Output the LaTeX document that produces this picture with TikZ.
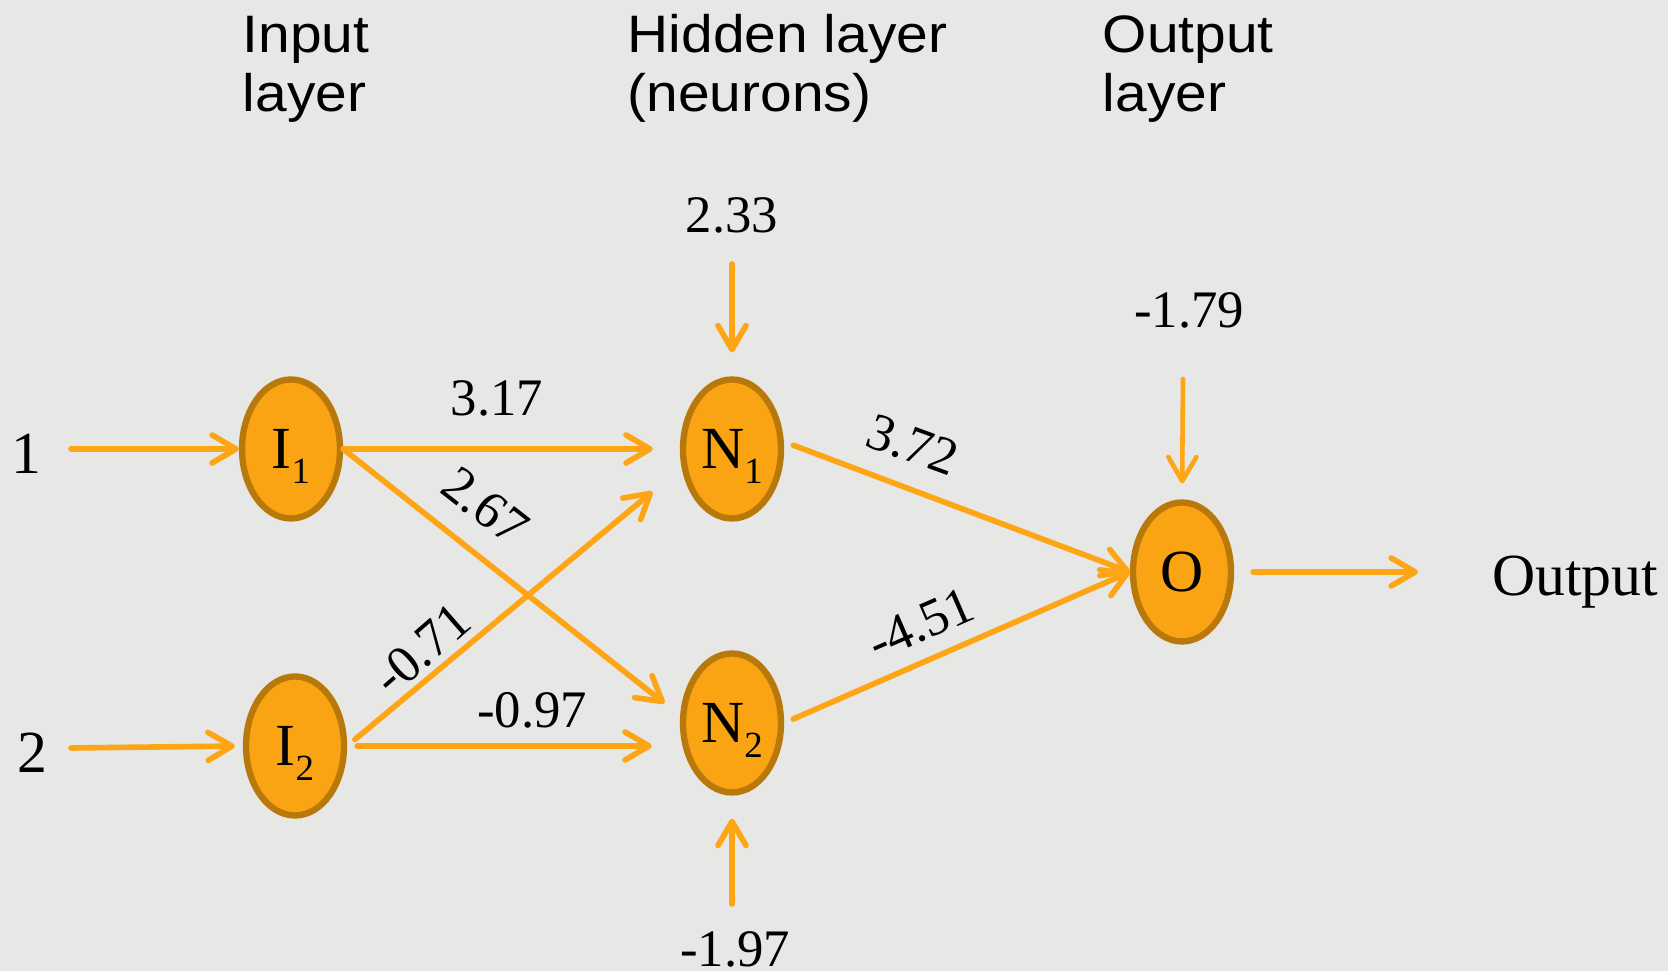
\documentclass[tikz,border=0pt]{standalone}
\usepackage{fontspec}
\setmainfont{Liberation Serif}
\setsansfont{Liberation Sans}
\newfontfamily\hdrfont[FakeStretch=1.08]{Liberation Sans}
\usetikzlibrary{positioning,arrows.meta,calc,shapes.geometric}

\definecolor{bgGray}{HTML}{E7E7E5}
\definecolor{cellOrange}{HTML}{FAA313}
\definecolor{rimBrown}{HTML}{B8780A}
\definecolor{wireOrange}{HTML}{FDA514}

\newcommand{\nsub}[1]{\raisebox{-4.2pt}{\fontsize{10.5}{10.5}\selectfont #1}}

\begin{document}
\begin{tikzpicture}[
  hdr/.style={font=\hdrfont\fontsize{15}{16.8}\selectfont, align=left, anchor=base west, inner sep=0pt},
  unit/.style={ellipse, draw=rimBrown, fill=cellOrange, line width=1.8pt,
    minimum width=0.98cm, minimum height=1.39cm, inner sep=0pt, text depth=0pt,
    font=\fontsize{17}{17}\selectfont},
  wire/.style={-{Straight Barb[length=2.4mm, width=2.8mm, round]}, line width=1.6pt,
    draw=wireOrange, line cap=round},
  wt/.style={font=\fontsize{15}{15}\selectfont, inner sep=0pt},
  big/.style={font=\fontsize{17}{17}\selectfont, inner sep=0pt}
]
\fill[bgGray] (0,0) rectangle (16.68,9.71);
\useasboundingbox (0,0) rectangle (16.68,9.71);
% layer headers
\node[hdr] (hdr-input) at (2.42,8.59) {Input\\layer};
\node[hdr] (hdr-hidden) at (6.27,8.59) {Hidden layer\\(neurons)};
\node[hdr] (hdr-output) at (11.02,8.59) {Output\\layer};
% neurons
\node[unit] (unit-i1) at (2.91,5.22) {I\nsub{1}};
\node[unit] (unit-i2) at (2.95,2.25) {I\nsub{2}};
\node[unit] (unit-n1) at (7.32,5.22) {N\nsub{1}};
\node[unit] (unit-n2) at (7.32,2.48) {N\nsub{2}};
\node[unit] (unit-o) at (11.82,3.99) {O};
% inputs, biases, output
\node[big] (lbl-in1) at (0.26,5.17) {1};
\node[big] (lbl-in2) at (0.32,2.18) {2};
\coordinate (start-in1) at (0.71,5.22);
\coordinate (start-in2) at (0.71,2.23);
\node[wt] (bias-n1) at (7.32,7.56) {2.33};
\node[wt] (bias-n2) at (7.35,0.22) {-1.97};
\node[wt] (bias-o) at (11.89,6.61) {-1.79};
\coordinate (start-bn1) at (7.32,7.07);
\coordinate (start-bn2) at (7.32,0.67);
\coordinate (start-bo) at (11.83,5.92);
\coordinate (end-out) at (14.18,3.99);
\node[big, anchor=base] (lbl-out) at (15.75,3.75) {Output};
% weights
\node[wt] (w-i1n1) at (4.97,5.73) {3.17};
\node[wt, rotate=-38] (w-i1n2) at (4.85,4.65) {2.67};
\node[wt, rotate=41] (w-i2n1) at (4.22,3.22) {-0.71};
\node[wt] (w-i2n2) at (5.32,2.61) {-0.97};
\node[wt, rotate=-20] (w-n1o) at (9.13,5.26) {3.72};
\node[wt, rotate=23.5] (w-n2o) at (9.21,3.47) {-4.51};
% connectors
\draw[wire] (start-in1) -- (unit-i1.west);
\draw[wire, shorten >=0.08cm] (start-in2) -- (unit-i2.west);
\draw[wire, shorten >=0.27cm] (unit-i1.east) -- (unit-n1.west);
\draw[wire, shorten >=0.2cm] (unit-i1.east) -- (unit-n2.172);
\draw[wire, shorten <=0.1cm, shorten >=0.38cm] (unit-i2.east) -- (unit-n1.200);
\draw[wire, shorten <=0.1cm, shorten >=0.28cm] (unit-i2.east) -- (unit-i2.east -| unit-n2.west);
\draw[wire, shorten <=0.1cm] (unit-n1.8) -- (unit-o.west);
\draw[wire, shorten <=0.1cm] (unit-n2.east) -- (unit-o.west);
\draw[wire, shorten >=0.24cm] (start-bn1) -- (unit-n1.north);
\draw[wire, shorten >=0.23cm] (start-bn2) -- (unit-n2.south);
\draw[wire, line width=1.3pt, shorten >=0.16cm] (start-bo) -- (unit-o.north);
\draw[wire, shorten <=0.19cm] (unit-o.east) -- (end-out);
\end{tikzpicture}
\end{document}
